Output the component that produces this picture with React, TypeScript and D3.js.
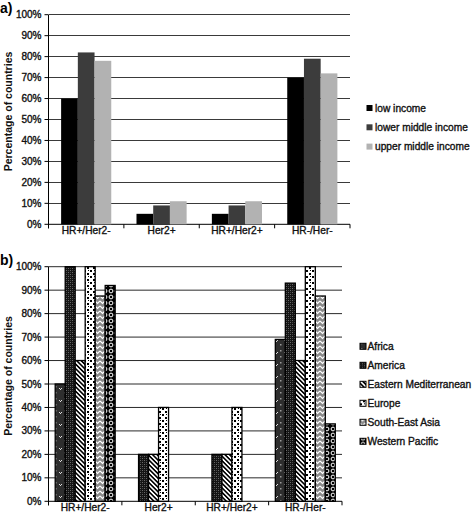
import React from "react";
import * as d3 from "d3";

const categories = ["HR+/Her2-", "Her2+", "HR+/Her2+", "HR-/Her-"];
const yTickValues = [0, 10, 20, 30, 40, 50, 60, 70, 80, 90, 100];
const yTickLabels = ["0%", "10%", "20%", "30%", "40%", "50%", "60%", "70%", "80%", "90%", "100%"];

const incomeGroups = ["low income", "lower middle income", "upper middle income"];
const lowIncome = [60, 5, 5, 70];
const lowerMiddleIncome = [82, 9, 9, 79];
const upperMiddleIncome = [78, 11, 11, 72];
const incomeSeries = [lowIncome, lowerMiddleIncome, upperMiddleIncome];
const incomeColors = ["#000000", "#3c3c3c", "#b2b2b2"];

const regions = ["Africa", "America", "Eastern Mediterranean", "Europe", "South-East Asia", "Western Pacific"];
const africa = [50, 0, 0, 69];
const america = [100, 20, 20, 93];
const easternMediterranean = [60, 20, 20, 60];
const europe = [100, 40, 40, 100];
const southEastAsia = [87.5, 0, 0, 87.5];
const westernPacific = [92, 0, 0, 33];
const regionSeries = [africa, america, easternMediterranean, europe, southEastAsia, westernPacific];
const regionPatterns = ["pAfrica", "pAmerica", "pEMed", "pEurope", "pSEAsia", "pWPac"];

const FONT = "'Liberation Sans', Arial, Helvetica, sans-serif";
const txt = { fontFamily: FONT, fill: "#111", stroke: "#111", strokeWidth: 0.35 } as const;

function Patterns() {
  return (
    <defs>
      <pattern id="pAfrica" width="9" height="12" patternUnits="userSpaceOnUse">
        <rect width="9" height="12" fill="#2e2e2e" />
        <rect x="1" y="2" width="1.5" height="1.5" fill="#9a9a9a" />
        <rect x="1" y="8" width="1.5" height="1.5" fill="#9a9a9a" />
        <rect x="5" y="4" width="1" height="1" fill="#dddddd" />
        <rect x="6" y="5" width="1" height="1" fill="#dddddd" />
        <rect x="7" y="4" width="1" height="1" fill="#dddddd" />
      </pattern>
      <pattern id="pAmerica" width="4" height="4" patternUnits="userSpaceOnUse">
        <rect width="4" height="4" fill="#141414" />
        <rect x="0" y="0" width="1" height="1" fill="#6a6a6a" />
        <rect x="2" y="2" width="1" height="1" fill="#6a6a6a" />
        <rect x="2" y="0" width="1" height="1" fill="#444" />
        <rect x="0" y="2" width="1" height="1" fill="#444" />
      </pattern>
      <pattern id="pEMed" width="3.2" height="3.2" patternUnits="userSpaceOnUse" patternTransform="rotate(-45)">
        <rect width="3.2" height="3.2" fill="#ffffff" />
        <rect width="1.6" height="3.2" fill="#000000" />
      </pattern>
      <pattern id="pEurope" width="6" height="6" patternUnits="userSpaceOnUse">
        <rect width="6" height="6" fill="#ffffff" />
        <rect x="0" y="0" width="2" height="2" fill="#000" />
        <rect x="3" y="3" width="2" height="2" fill="#000" />
        <rect x="4" y="0" width="1" height="1" fill="#000" />
      </pattern>
      <pattern id="pSEAsia" width="5" height="5" patternUnits="userSpaceOnUse">
        <rect width="5" height="5" fill="#8a8a8a" />
        <path d="M0,1 L2.5,3.5 L5,1" stroke="#ffffff" strokeWidth="1.2" fill="none" />
      </pattern>
      <pattern id="pWPac" width="6" height="6" patternUnits="userSpaceOnUse">
        <rect width="6" height="6" fill="#000000" />
        <circle cx="3" cy="3" r="1.9" fill="none" stroke="#ffffff" strokeWidth="1" />
      </pattern>
    </defs>
  );
}

interface PanelProps {
  top: number;
  bottom: number;
  left: number;
  right: number;
  label: string;
}

function Axes({ top, bottom, left, right, label, gridColor, crisp }: PanelProps & { gridColor: string; crisp: boolean }) {
  const y = d3.scaleLinear().domain([0, 100]).range([bottom, top]);
  const x = d3.scaleBand<string>().domain(categories).range([left, right]);
  const bounds = [left, ...categories.map((c) => (x(c) as number) + x.bandwidth())];
  return (
    <g>
      {yTickValues.map((v, i) => (
        <g key={i}>
          {v > 0 && (
            <line x1={left} x2={right} y1={y(v)} y2={y(v)} stroke={gridColor} strokeWidth={1}
              shapeRendering={crisp ? "crispEdges" : undefined} />
          )}
          <line x1={left - 4} x2={left} y1={y(v)} y2={y(v)} stroke="#000" strokeWidth={1} />
          <text x={left - 7} y={y(v)} dy="0.35em" textAnchor="end" fontSize={10} {...txt}>
            {yTickLabels[i]}
          </text>
        </g>
      ))}
      <line x1={left} x2={left} y1={top} y2={bottom + 4} stroke="#000" strokeWidth={1} />
      <line x1={left} x2={right} y1={bottom} y2={bottom} stroke="#000" strokeWidth={1} />
      {bounds.map((b, i) => (
        <line key={i} x1={b} x2={b} y1={bottom} y2={bottom + 4} stroke="#000" strokeWidth={1} />
      ))}
      {categories.map((c) => (
        <text key={c} x={(x(c) as number) + x.bandwidth() / 2} y={bottom + 9.5} textAnchor="middle" fontSize={10.2} {...txt}>
          {c}
        </text>
      ))}
      <text transform={`translate(8,${(top + bottom) / 2 - 8}) rotate(-90)`} textAnchor="middle" dy="0.35em" fontSize={10.5} fontWeight="bold" fontFamily={FONT} fill="#111">
        Percentage of countries
      </text>
      <text x={0} y={top - 2} fontSize={14} fontWeight="bold" fill="#000" fontFamily={FONT}>
        {label}
      </text>
    </g>
  );
}

function PanelA() {
  const top = 14.7, bottom = 224.3, left = 48.5, right = 350;
  const y = d3.scaleLinear().domain([0, 100]).range([bottom, top]);
  const x = d3.scaleBand<string>().domain(categories).range([left, right]);
  const xs = d3.scaleBand<string>().domain(incomeGroups).range([0, x.bandwidth()]).paddingInner(0).paddingOuter(0.755);
  return (
    <g>
      <Axes top={top} bottom={bottom} left={left} right={right} label="a)" gridColor="#3a3a3a" crisp={true} />
      {incomeGroups.map((g, si) => (
        <g key={g}>
          {categories.map((c, ci) => (
            <rect key={c} x={(x(c) as number) + (xs(g) as number)} y={y(incomeSeries[si][ci])}
              width={xs.bandwidth()} height={bottom - y(incomeSeries[si][ci])} fill={incomeColors[si]} />
          ))}
        </g>
      ))}
      {incomeGroups.map((g, i) => (
        <g key={g} transform={`translate(366.5,${108 + i * 19.3})`}>
          <rect x={0} y={-3} width={6} height={6} fill={incomeColors[i]} />
          <text x={8.5} y={0} dy="0.35em" fontSize={10.2} {...txt}>{g}</text>
        </g>
      ))}
    </g>
  );
}

function PanelB() {
  const top = 266.7, bottom = 501.3, left = 48.5, right = 342;
  const y = d3.scaleLinear().domain([0, 100]).range([bottom, top]);
  const x = d3.scaleBand<string>().domain(categories).range([left, right]);
  const xs = d3.scaleBand<string>().domain(regions).range([0, x.bandwidth()]).paddingInner(0).paddingOuter(0.67);
  return (
    <g>
      <Axes top={top} bottom={bottom} left={left} right={right} label="b)" gridColor="#2a2a2a" crisp={false} />
      {regions.map((r, si) => (
        <g key={r}>
          {categories.map((c, ci) =>
            regionSeries[si][ci] > 0 ? (
              <rect key={c} x={(x(c) as number) + (xs(r) as number)} y={y(regionSeries[si][ci])}
                width={xs.bandwidth()} height={bottom - y(regionSeries[si][ci])}
                fill={`url(#${regionPatterns[si]})`} stroke="#000" strokeWidth={1.3} />
            ) : null
          )}
        </g>
      ))}
      {regions.map((r, i) => (
        <g key={r} transform={`translate(360,${346.3 + i * 19})`}>
          <rect x={0} y={-3} width={6} height={6} fill={`url(#${regionPatterns[i]})`} stroke="#000" strokeWidth={1} />
          <text x={7.5} y={0} dy="0.35em" fontSize={10.2} {...txt}>{r}</text>
        </g>
      ))}
    </g>
  );
}

export default function App() {
  return (
    <svg width={472} height={518} style={{ position: "absolute", left: 0, top: 0, background: "#fff" }}>
      <Patterns />
      <rect width={472} height={518} fill="#fff" />
      <PanelA />
      <PanelB />
    </svg>
  );
}
